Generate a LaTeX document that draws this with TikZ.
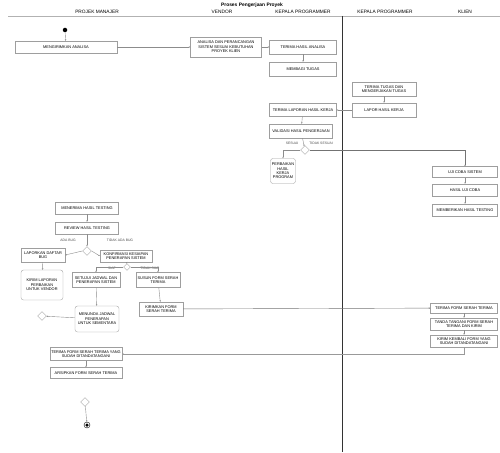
\documentclass[tikz,border=0pt]{standalone}
\usepackage{fontspec}
\setmainfont{Liberation Sans}
\usetikzlibrary{shapes.geometric,arrows.meta}
\begin{document}
\begin{tikzpicture}[x=1pt,y=-1pt,
  act/.style={draw=black!38, line width=0.35pt, fill=white, align=center,
    inner sep=0.5pt, font=\fontsize{3.9}{4.4}\selectfont},
  ract/.style={act, rounded corners=2.5pt},
  choice/.style={diamond, draw=black!35, line width=0.35pt, fill=white,
    minimum width=9, minimum height=9, inner sep=0pt},
  flow/.style={draw=black!45, line width=0.4pt, -{Stealth[length=1.6pt,width=1.4pt]}},
  lane/.style={font=\fontsize{4.8}{5}\selectfont},
  guard/.style={font=\fontsize{3.4}{3.8}\selectfont, text=black!70, inner sep=0.5pt}]
\useasboundingbox (0,0) rectangle (500,452);

% title and swimlane headers
\node[font=\bfseries\fontsize{4.9}{5.5}\selectfont] (title) at (252,5) {Proses Pengerjaan Proyek};
\node[lane] (h1) at (97,12) {PROJEK MANAJER};
\node[lane] (h2) at (222,12) {VENDOR};
\node[lane] (h3) at (303,12) {KEPALA PROGRAMMER};
\node[lane] (h4) at (385,12) {KEPALA PROGRAMMER};
\node[lane] (h5) at (465,12) {KLIEN};
\coordinate (hl) at (8,16.5);
\coordinate (hr) at (500,16.5);
\draw[black!30, line width=0.4pt] (hl) -- (hr);
\coordinate (vt) at (342.5,16);
\coordinate (vb) at (342.5,452);
\draw[black!80, line width=0.6pt] (vt) -- (vb);

% start
\node[circle, fill=black, inner sep=0pt, minimum size=4.5] (start) at (65,30) {};

% activities
\node[act, minimum width=102, minimum height=12] (pm1) at (66,47) {MENGIRIMKAN ANALISA};
\node[act, minimum width=71, minimum height=20] (v1) at (226,47) {ANALISA DAN PERANCANGAN\\SISTEM SESUAI KEBUTUHAN\\PROYEK KLIEN};
\node[act, minimum width=67, minimum height=14] (kp1) at (303,47) {TERIMA HASIL ANALISA};
\node[act, minimum width=67, minimum height=14] (kp2) at (303,69) {MEMBAGI TUGAS};
\node[act, minimum width=64, minimum height=14] (kq1) at (384,89) {TERIMA TUGAS DAN\\MENGERJAKAN TUGAS};
\node[act, minimum width=64, minimum height=14] (kq2) at (384,110) {LAPOR HASIL KERJA};
\node[act, minimum width=67, minimum height=13] (kp3) at (303,110) {TERIMA LAPORAN HASIL KERJA};
\node[act, minimum width=63, minimum height=14] (kp4) at (301,131) {VALIDASI HASIL PENGERJAAN};
\node[choice] (d1) at (305,150) {};
\node[guard] (g1) at (292,143) {SESUAI};
\node[guard] (g2) at (321,143) {TIDAK SESUAI};
\node[ract, minimum width=25, minimum height=25] (kp5) at (283,171) {PERBAIKAN\\HASIL\\KERJA\\PROGRAM};

\node[act, minimum width=65, minimum height=11] (kl1) at (465,172) {UJI COBA SISTEM};
\node[act, minimum width=65, minimum height=12] (kl2) at (465,190) {HASIL UJI COBA};
\node[act, minimum width=65, minimum height=12] (kl3) at (465,210) {MEMBERIKAN HASIL TESTING};

\node[act, minimum width=63, minimum height=12] (pm2) at (87,208) {MENERIMA HASIL TESTING};
\node[act, minimum width=63, minimum height=12] (pm3) at (87,228) {REVIEW HASIL TESTING};
\node[guard] (g3) at (68,240) {ADA BUG};
\node[guard] (g4) at (120,240) {TIDAK ADA BUG};
\node[choice] (d2) at (87,251) {};
\node[act, minimum width=44, minimum height=14] (pm4) at (43,255) {LAPORKAN DAFTAR\\BUG};
\node[act, minimum width=52, minimum height=12] (pm5) at (126,256) {KONFIRMASI KESIAPAN\\PENERAPAN SISTEM};
\node[guard] (g5) at (112,268) {SIAP};
\node[guard] (g6) at (150,268) {TIDAK SIAP};
\node[choice, minimum width=7, minimum height=7] (d3) at (127,267) {};
\node[ract, minimum width=42, minimum height=30] (pm6) at (42,285) {KIRIM LAPORAN\\PERBAIKAN\\UNTUK VENDOR};
\node[act, minimum width=48, minimum height=15] (pm7) at (96,280) {SETUJUI JADWAL DAN\\PENERAPAN SISTEM};
\node[act, minimum width=44, minimum height=15] (pm8) at (158,280) {SUSUN FORM SERAH\\TERIMA};
\node[act, minimum width=44, minimum height=14] (pm9) at (161,309) {KIRIMKAN FORM\\SERAH TERIMA};
\node[ract, minimum width=44, minimum height=26] (pm10) at (97,319) {MENUNDA JADWAL\\PENERAPAN\\UNTUK SEMENTARA};
\node[choice] (m1) at (42,316) {};

\node[act, minimum width=67, minimum height=10] (kl4) at (464,308) {TERIMA FORM SERAH TERIMA};
\node[act, minimum width=67, minimum height=12] (kl5) at (464,324) {TANDA TANGANI FORM SERAH\\TERIMA DAN KIRIM};
\node[act, minimum width=67, minimum height=12] (kl6) at (464,341) {KIRIM KEMBALI FORM YANG\\SUDAH DITANDATANGANI};

\node[act, minimum width=72, minimum height=13] (pm11) at (86,354) {TERIMA FORM SERAH TERIMA YANG\\SUDAH DITANDATANGANI};
\node[act, minimum width=72, minimum height=11] (pm12) at (86,373) {ARSIPKAN FORM SERAH TERIMA};
\node[choice] (m2) at (85,402) {};

% end
\node[circle, draw=black, line width=0.4pt, inner sep=0pt, minimum size=6] (endo) at (87,425) {};
\node[circle, fill=black, inner sep=0pt, minimum size=3.5] (endi) at (87,425) {};

% control flow
\draw[flow] (start) -- (pm1);
\draw[flow] (pm1) -- (v1);
\draw[flow] (v1) -- (kp1);
\draw[flow] (kp1) -- (kp2);
\draw[flow] (kq1) -- (kq2);
\draw[flow] (kq2) -- (kp3);
\draw[flow] (kp3) -- (kp4);
\draw[flow] (kp4) -- (d1);
\draw[flow] (d1.west) -| (kp5.north);
\draw[flow, black!55] (d1.east) -| (kl1.north);
\draw[flow] (kl1) -- (kl2);
\draw[flow] (kl2) -- (kl3);
\draw[flow] (pm2) -- (pm3);
\draw[flow] (pm3) -- (d2);
\draw[flow] (d2.west) -- (pm4.east);
\draw[flow] (d2.east) -- (pm5.west);
\draw[flow] (pm4) -- (pm6);
\draw[flow] (pm5) -- (d3);
\draw[flow] (d3.west) -| (pm7.north);
\draw[flow] (d3.east) -| (pm8.north);
\draw[flow] (pm7) -- (pm10);
\draw[flow] (pm8) -- (pm9);
\draw[flow] (pm10) -- (m1);
\draw[flow, black!55] (pm9) -- (kl4);
\draw[flow] (kl4) -- (kl5);
\draw[flow] (kl5) -- (kl6);
\draw[flow, black!40, line width=0.8pt] (kl6.south) |- (pm11.east);
\draw[flow] (pm11) -- (pm12);
\draw[flow] (m2) -- (endo);
\end{tikzpicture}
\end{document}
